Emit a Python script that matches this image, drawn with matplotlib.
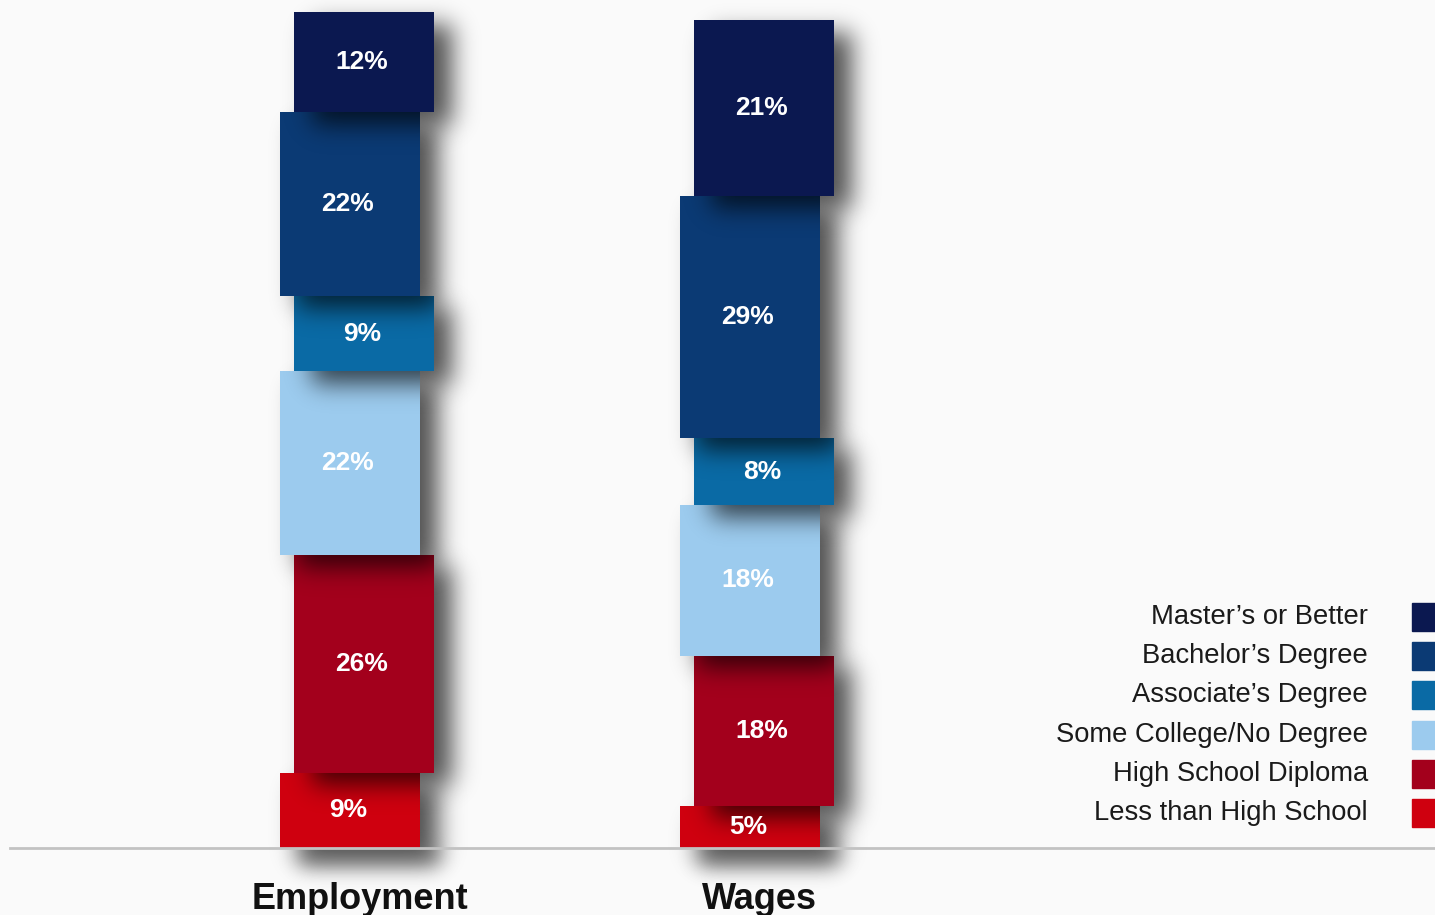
import math
import numpy as np
import matplotlib
matplotlib.use('Agg')
import matplotlib.pyplot as plt
from matplotlib.patches import Rectangle

# shares by education level, bottom of the stack first
levels = ['Less than High School', 'High School Diploma', 'Some College/No Degree',
          "Associate's Degree", "Bachelor's Degree", "Master's or Better"]
legend_names = ['Less than High School', 'High School Diploma', 'Some College/No Degree',
                'Associate\u2019s Degree', 'Bachelor\u2019s Degree', 'Master\u2019s or Better']
colors = ['#cf000f', '#a3001c', '#9ccbee', '#0a6aa5', '#0b3a74', '#0b1850']
groups = ['Employment', 'Wages']
employment = [9, 26, 22, 9, 22, 12]
wages = [5, 18, 18, 8, 29, 21]
# segments alternate left / right of the group centre
stagger = [-1, 1, -1, 1, -1, 1]

W, H = 1435, 915
PX_X = 400.0    # pixels per group step
PX_Y = 8.36     # pixels per percent
x_lo = -357 / PX_X
x_hi = x_lo + W / PX_X
y_lo = -(915 - 848) / PX_Y
y_hi = 848 / PX_Y
bar_w = 140 / PX_X
shift = 7 / PX_X

fig = plt.figure(figsize=(W / 100, H / 100), dpi=100)
fig.patch.set_facecolor('#fafafa')
ax = fig.add_axes([0, 0, 1, 1])
ax.set_xlim(x_lo, x_hi)
ax.set_ylim(y_lo, y_hi)
ax.axis('off')

erf = np.vectorize(math.erf)
gx = np.linspace(x_lo, x_hi, W)
gy = np.linspace(y_lo, y_hi, H)


def soft_step(g, a, b, sigma):
    return 0.5 * (erf((g - a) / (sigma * math.sqrt(2))) - erf((g - b) / (sigma * math.sqrt(2))))


def shadow(x0, x1, y0, y1, z, blur=12, off=(18, -12), strength=0.68):
    sx, sy = blur / PX_X, blur / PX_Y
    dx, dy = off[0] / PX_X, off[1] / PX_Y
    a = np.outer(soft_step(gy, y0 + dy, y1 + dy, sy), soft_step(gx, x0 + dx, x1 + dx, sx))
    img = np.zeros((H, W, 4))
    img[..., 3] = strength * a
    ax.imshow(img, extent=(x_lo, x_hi, y_lo, y_hi), origin='lower',
              interpolation='bilinear', aspect='auto', zorder=z)


for gi, vals in enumerate([employment, wages]):
    bottoms = np.concatenate([[0], np.cumsum(vals)[:-1]])
    # soft floor shadow under the stack
    shadow(gi - bar_w / 2, gi + bar_w / 2, -1.2, 0, 0.5, blur=10, off=(12, -6), strength=0.55)
    for k, (v, b) in enumerate(zip(vals, bottoms)):
        xc = gi + stagger[k] * shift
        shadow(xc - bar_w / 2, xc + bar_w / 2, b, b + v, 1 + 2 * k)
        ax.bar(xc, v, bottom=b, width=bar_w, color=colors[k], zorder=2 + 2 * k)
        ax.text(xc - 2 / PX_X, b + v / 2, f'{v}%', ha='center', va='center', color='white',
                fontsize=19, fontweight='bold', family='Liberation Sans', zorder=20)
    ax.annotate(groups[gi], (gi, 0), xytext=(2, -37), textcoords='offset points',
                ha='center', va='center', fontsize=26, fontweight='bold',
                family='Liberation Sans', color='#111111', zorder=20)

ax.axhline(0, xmin=10 / W, xmax=1, color='#c2c2c2', lw=2, zorder=30)

# legend drawn by hand, top row first, text right-aligned against the swatches
rows_y = [617, 656, 695, 735, 774, 813]
for name, col, ry in zip(legend_names[::-1], colors[::-1], rows_y):
    fig.text(1368 / W, 1 - ry / H, name, ha='right', va='center', fontsize=19.7,
             family='Liberation Sans', color='#1a1a1a')
    fig.patches.append(Rectangle((1412 / W, 1 - (ry + 14) / H), 30 / W, 28 / H,
                                 transform=fig.transFigure, color=col))

fig.savefig('out.png', dpi=100, facecolor=fig.get_facecolor())
